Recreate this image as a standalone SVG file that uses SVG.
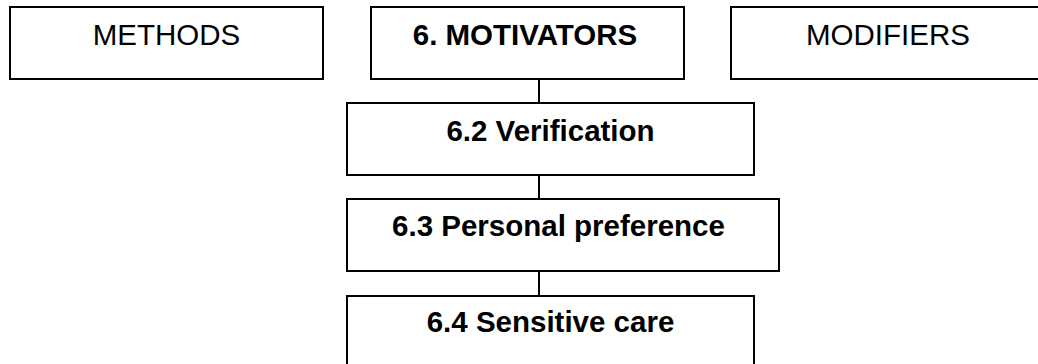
<svg xmlns="http://www.w3.org/2000/svg" width="1038" height="364" viewBox="0 0 1038 364">
<style>
.box{fill:#fff;stroke:#000;stroke-width:2}
.t{font-family:"Liberation Sans",Arial,sans-serif;font-size:29.5px;fill:#000;text-anchor:middle}
.b{font-weight:bold}
.c{stroke:#000;stroke-width:2;fill:none}
</style>
<g id="connectors">
<line class="c" x1="539" y1="79" x2="539" y2="103"/>
<line class="c" x1="539" y1="175" x2="539" y2="199"/>
<line class="c" x1="539" y1="271" x2="539" y2="296"/>
</g>
<g id="methods"><rect class="box" x="10" y="7" width="313" height="72"/><text class="t" x="166.5" y="44.5">METHODS</text></g>
<g id="motivators"><rect class="box" x="371" y="7" width="313" height="72"/><text class="t b" x="525" y="44.5">6. MOTIVATORS</text></g>
<g id="modifiers"><rect class="box" x="731" y="7" width="314" height="72"/><text class="t" x="888" y="44.5">MODIFIERS</text></g>
<g id="verification"><rect class="box" x="347" y="103" width="407" height="72"/><text class="t b" x="550.5" y="141">6.2 Verification</text></g>
<g id="preference"><rect class="box" x="347" y="199" width="432" height="72"/><text class="t b" x="558.5" y="236">6.3 Personal preference</text></g>
<g id="sensitive"><rect class="box" x="347" y="296" width="407" height="80"/><text class="t b" x="550.5" y="332">6.4 Sensitive care</text></g>
</svg>
